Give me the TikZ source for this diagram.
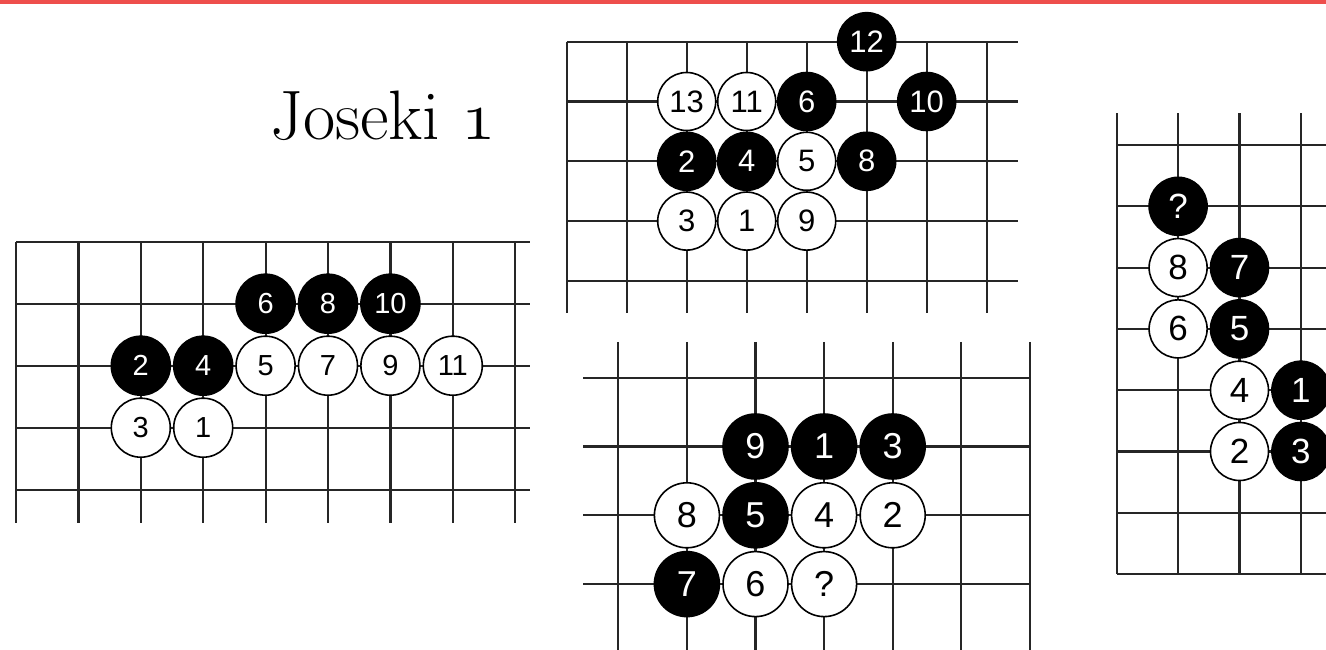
\RequirePackage{fix-cm}
\documentclass[tikz,border=0pt]{standalone}
\usepackage{fontspec}
\newfontfamily\stonefont{Liberation Sans}
\definecolor{topred}{RGB}{238,78,76}
\tikzset{
  gridline/.style={line width=2.2pt,black!85},
  stone/.style={circle,draw=black,line width=1.6pt,inner sep=0pt},
  bstone/.style={stone,fill=black,text=white},
  wstone/.style={stone,fill=white,text=black},
  stonesize/.style 2 args={every node/.append style={minimum size=#1pt,font=\stonefont\fontsize{#2}{#2}\selectfont}}
}

\begin{document}
\begin{tikzpicture}[x=1pt,y=-1pt]
  \useasboundingbox (0,0) rectangle (1326,650);
  \fill[topred] (0,0) rectangle (1326,4.5);
  \node[anchor=base west,inner sep=0pt,font=\fontsize{70}{74}\selectfont] (title) at (270,140) {Joseki $\mathnormal{1}$};

  % left board
  \begin{scope}[shift={(16pt,-241.7pt)},x=62.4pt,y=-62pt,stonesize={59}{29}]
    \foreach \r in {0,...,4} {\draw[gridline] (0,\r) -- (8.24,\r);}
    \foreach \c in {0,...,8} {\draw[gridline] (\c,0) -- (\c,4.54);}
    \foreach \c/\r/\n in {4/1/6,5/1/8,6/1/10,2/2/2,3/2/4} {\node[bstone] (L\n) at (\c,\r) {\n};}
    \foreach \c/\r/\n in {4/2/5,5/2/7,6/2/9,7/2/11,2/3/3,3/3/1} {\node[wstone] (L\n) at (\c,\r) {\n};}
  \end{scope}

  % top middle board
  \begin{scope}[shift={(566.7pt,-41.7pt)},x=60pt,y=-59.8pt,stonesize={58}{31}]
    \foreach \r in {0,...,4} {\draw[gridline] (0,\r) -- (7.52,\r);}
    \foreach \c in {0,...,7} {\draw[gridline] (\c,0) -- (\c,4.54);}
    \foreach \c/\r/\n in {5/0/12,4/1/6,6/1/10,2/2/2,3/2/4,5/2/8} {\node[bstone] (T\n) at (\c,\r) {\n};}
    \foreach \c/\r/\n in {2/1/13,3/1/11,4/2/5,2/3/3,3/3/1,4/3/9} {\node[wstone] (T\n) at (\c,\r) {\n};}
  \end{scope}

  % bottom middle board
  \begin{scope}[shift={(618.3pt,-377.7pt)},x=68.6pt,y=-68.8pt,stonesize={65}{36}]
    \foreach \r in {0,...,3} {\draw[gridline] (-0.51,\r) -- (6,\r);}
    \foreach \c in {0,...,6} {\draw[gridline] (\c,-0.52) -- (\c,4.2);}
    \foreach \c/\r/\n in {2/1/9,3/1/1,4/1/3,2/2/5,1/3/7} {\node[bstone] (B\n) at (\c,\r) {\n};}
    \foreach \c/\r/\n in {1/2/8,3/2/4,4/2/2,2/3/6} {\node[wstone] (B\n) at (\c,\r) {\n};}
    \node[wstone] (Bq) at (3,3) {?};
  \end{scope}

  % right board
  \begin{scope}[shift={(1116.7pt,-145pt)},x=61.4pt,y=-61.3pt,stonesize={58}{35}]
    \foreach \r in {0,...,7} {\draw[gridline] (0,\r) -- (3.5,\r);}
    \foreach \c in {0,...,3} {\draw[gridline] (\c,-0.52) -- (\c,7);}
    \node[bstone] (Rq) at (1,1) {?};
    \foreach \c/\r/\n in {2/2/7,2/3/5,3/4/1,3/5/3} {\node[bstone] (R\n) at (\c,\r) {\n};}
    \foreach \c/\r/\n in {1/2/8,1/3/6,2/4/4,2/5/2} {\node[wstone] (R\n) at (\c,\r) {\n};}
  \end{scope}
\end{tikzpicture}
\end{document}
